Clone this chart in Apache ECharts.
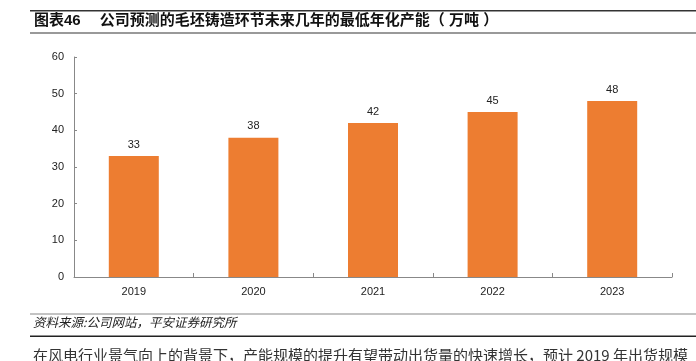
<!DOCTYPE html>
<html><head><meta charset="utf-8">
<script src="https://cdn.jsdelivr.net/npm/echarts@6/dist/echarts.min.js"></script>
<style>html,body{margin:0;padding:0;background:#fff}#c{width:696px;height:361px}</style>
</head><body><div id="c"></div>
<script>
const categories = ['2019','2020','2021','2022','2023'];
const values = [33, 38, 42, 45, 48];
const yTicks = [0, 10, 20, 30, 40, 50, 60];
const titleText = '图表46\u3000 公司预测的毛坯铸造环节未来几年的最低年化产能（ 万吨 ）';
const sourceText = '资料来源:公司网站，平安证券研究所';
const bodyText = '在风电行业景气向上的背景下，产能规模的提升有望带动出货量的快速增长，预计 2019 年出货规模';

const FONT = '"Liberation Sans", Arial, "Noto Sans CJK SC", sans-serif';
const chart = echarts.init(document.getElementById('c'), null, {renderer: 'canvas'});
chart.setOption({
  animation: false,
  backgroundColor: '#fff',
  grid: {left: 74, right: 24, top: 57, bottom: 84, containLabel: false},
  xAxis: {
    type: 'category', data: categories,
    axisLine: {lineStyle: {color: '#888', width: 1}},
    axisTick: {show: true, inside: true, length: 4, alignWithLabel: false, lineStyle: {color: '#888'}},
    axisLabel: {color: '#222', fontSize: 11, fontFamily: FONT, margin: 9}
  },
  yAxis: {
    type: 'value', min: yTicks[0], max: yTicks[yTicks.length-1], interval: 10,
    splitLine: {show: false},
    axisLine: {show: true, lineStyle: {color: '#888', width: 1}},
    axisTick: {show: true, inside: true, length: 3, lineStyle: {color: '#888'}},
    axisLabel: {color: '#222', fontSize: 11, fontFamily: FONT, margin: 10}
  },
  series: [{
    type: 'bar', data: values, barWidth: 50,
    itemStyle: {color: '#ED7D31'},
    label: {show: true, position: 'top', distance: 6, color: '#222', fontSize: 11, fontFamily: FONT}
  }],
  graphic: [
    {type: 'rect', shape: {x: 30, y: 10, width: 666, height: 1.5}, style: {fill: '#333'}},
    {type: 'text', left: 34, top: 13, style: {text: titleText, font: 'bold 15px "Liberation Sans", "Noto Sans CJK SC", sans-serif', fill: '#111'}},
    {type: 'rect', shape: {x: 30, y: 32, width: 666, height: 2}, style: {fill: '#999'}},
    {type: 'rect', shape: {x: 30, y: 313.5, width: 666, height: 1}, style: {fill: '#888'}},
    {type: 'text', left: 33, top: 316, style: {text: sourceText, font: 'italic 12.5px "Noto Sans CJK SC", sans-serif', fill: '#222'}},
    {type: 'rect', shape: {x: 30, y: 335.5, width: 666, height: 1.5}, style: {fill: '#222'}},
    {type: 'text', left: 33, top: 348, style: {text: bodyText, font: '15px "Noto Sans CJK SC", sans-serif', fill: '#333'}}
  ]
});
</script></body></html>
